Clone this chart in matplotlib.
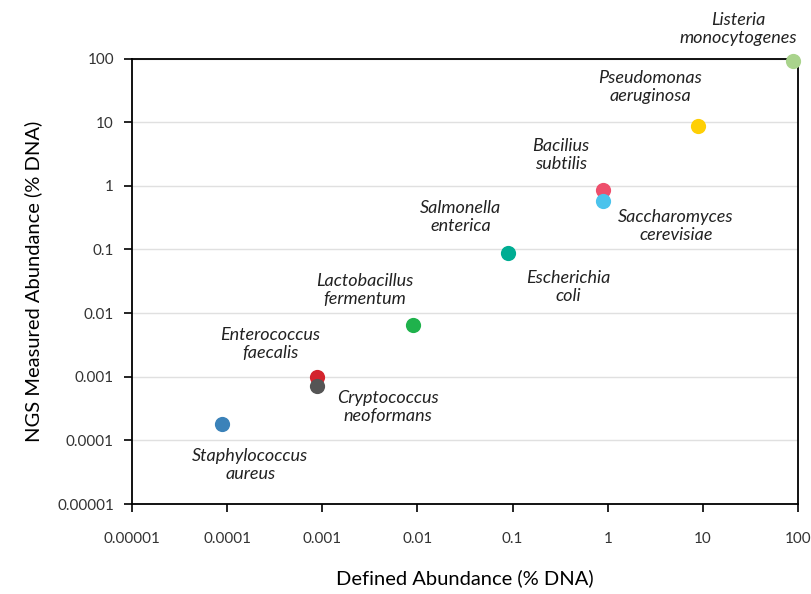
import matplotlib
matplotlib.use('Agg')
import matplotlib.pyplot as plt

# 데이터
species = ['Staphylococcus\naureus', 'Enterococcus\nfaecalis', 'Cryptococcus\nneoformans',
           'Lactobacillus\nfermentum', 'Salmonella\nenterica', 'Escherichia\ncoli',
           'Bacilius\nsubtilis', 'Saccharomyces\ncerevisiae', 'Pseudomonas\naeruginosa',
           'Listeria\nmonocytogenes']
defined = [0.000089, 0.00089, 0.00089, 0.0089, 0.089, 0.089, 0.89, 0.89, 8.9, 89]
measured = [0.00018, 0.00099, 0.00071, 0.0065, 0.087, 0.087, 0.85, 0.57, 8.6, 90]
colors = ['#3b82b9', '#d4242d', '#555555', '#1fb24c', '#00ad93', None,
          '#ee4f6c', '#4bc3ec', '#fecf05', '#a9d38c']
# 라벨 위치 (픽셀 오프셋)
offsets = [(28, -41), (-47, 33), (70, -21), (-48, 35), (-47, 36), (61, -34),
           (-42, 35), (73, -25), (-48, 39), (-55, 32)]

tick_vals = [0.00001, 0.0001, 0.001, 0.01, 0.1, 1, 10, 100]
tick_labels = ['0.00001', '0.0001', '0.001', '0.01', '0.1', '1', '10', '100']

plt.rcParams['font.family'] = ['Lato', 'DejaVu Sans']

fig = plt.figure(figsize=(8.11, 5.94), dpi=100)
ax = fig.add_axes([0.1628, 0.1515, 0.8212, 0.75])

for i in range(len(species)):
    if colors[i] is not None:
        ax.scatter(defined[i], measured[i], s=120, color=colors[i], zorder=3,
                   clip_on=False, linewidths=0)
    ax.annotate(species[i], (defined[i], measured[i]), xytext=offsets[i],
                textcoords='offset pixels', ha='center', va='center',
                fontsize=13, style='italic', color='#222222', linespacing=1.15)

ax.set_xscale('log')
ax.set_yscale('log')
ax.set_xlim(0.00001, 100)
ax.set_ylim(0.00001, 100)
ax.set_xticks(tick_vals)
ax.set_xticklabels(tick_labels)
ax.set_yticks(tick_vals)
ax.set_yticklabels(tick_labels)
ax.minorticks_off()
ax.tick_params(axis='x', direction='out', length=6, width=1.2, pad=14,
               labelsize=11, labelcolor='#333333')
ax.tick_params(axis='y', direction='out', length=6, width=1.2, pad=7,
               labelsize=11, labelcolor='#333333')
ax.grid(axis='y', color='#e0e0e0', linewidth=1)
ax.set_axisbelow(True)
for sp in ax.spines.values():
    sp.set_color('black')
    sp.set_linewidth(1.3)

ax.set_xlabel('Defined Abundance (% DNA)', fontsize=14.5, labelpad=17)
ax.set_ylabel('NGS Measured Abundance (% DNA)', fontsize=14.5, labelpad=11)

plt.savefig('out.png', dpi=100)
